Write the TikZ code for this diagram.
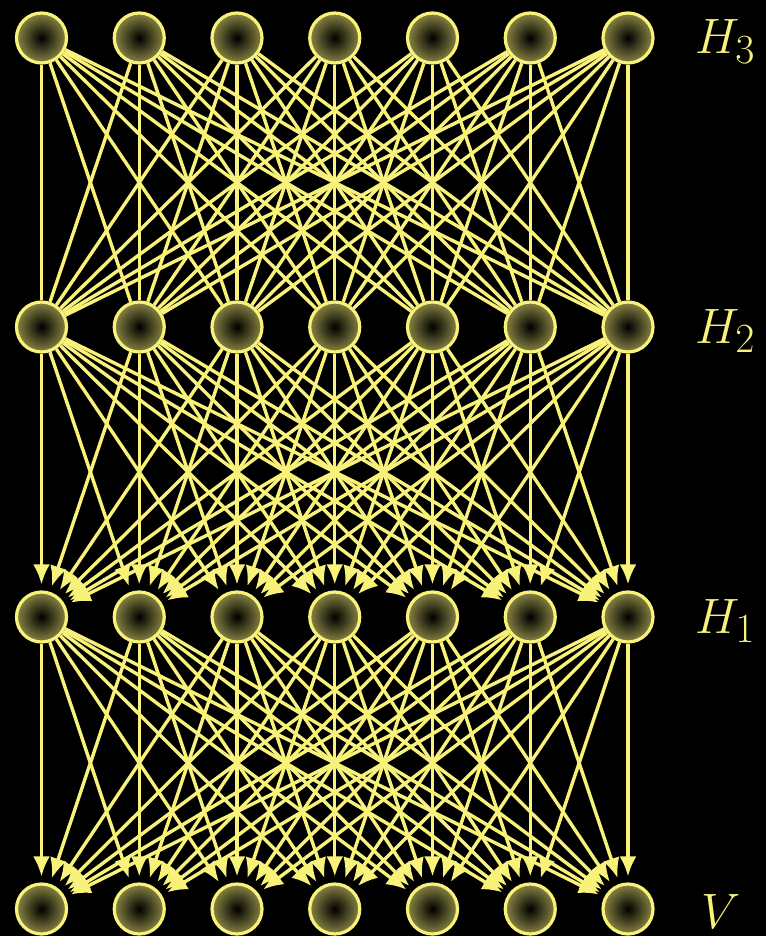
\documentclass[tikz,border=0pt]{standalone}
\usepackage{tikz}
\usetikzlibrary{arrows.meta, positioning, calc}
\definecolor{glow}{RGB}{248,242,122}

\begin{document}
\begin{tikzpicture}[x=0.5pt,y=-0.5pt,
        neuron/.style={draw=glow, line width=1.6pt, circle, minimum size=25pt, inner sep=0pt,
            shading=radial, inner color=black, outer color=glow!55!black},
        link/.style={glow, line width=1.7pt},
        arrowlink/.style={link, -{Latex[length=10pt,width=8.5pt]}, shorten >=3pt},
        layer/.style={text=glow, font=\fontsize{29}{32}\selectfont, anchor=base west}
    ]
        \fill[black] (0,0) rectangle (766,936);

        % four layers of seven units
        \foreach \i in {1,...,7} {
            \node[neuron] (h3-\i) at ({41.5+97.75*(\i-1)},38) {};
            \node[neuron] (h2-\i) at ({41.5+97.75*(\i-1)},327) {};
            \node[neuron] (h1-\i) at ({41.5+97.75*(\i-1)},617) {};
            \node[neuron] (v-\i) at ({41.5+97.75*(\i-1)},909) {};
        }

        \node[layer] (l3) at (688,54) {$H_3$};
        \node[layer] (l2) at (688,343) {$H_2$};
        \node[layer] (l1) at (688,633) {$H_1$};
        \node[layer] (lv) at (694,928) {$V$};

        % undirected top, directed below
        \foreach \i in {1,...,7} {
            \foreach \j in {1,...,7} {
                \draw[link] (h3-\i)--(h2-\j);
                \draw[arrowlink] (h2-\i)--(h1-\j);
                \draw[arrowlink] (h1-\i)--(v-\j);
            }
        }
    \end{tikzpicture}
\end{document}
